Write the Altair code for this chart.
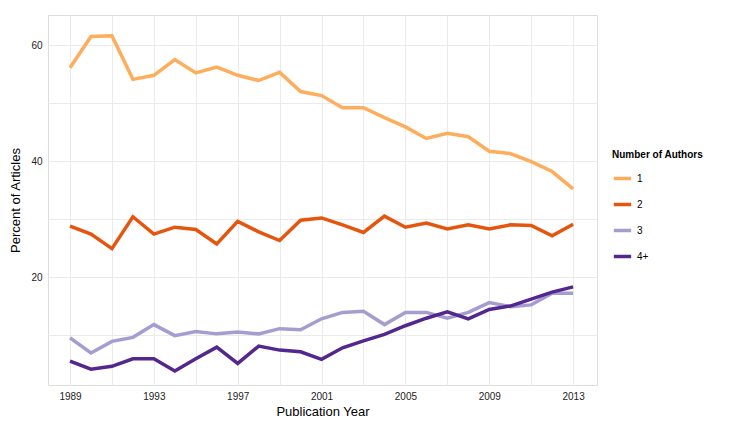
import altair as alt
import pandas as pd

years = list(range(1989, 2014))
s1 = [56.1, 61.5, 61.6, 54.1, 54.8, 57.5, 55.2, 56.2, 54.8, 53.9, 55.3, 52.0, 51.3, 49.2, 49.2,
      47.5, 45.9, 43.9, 44.8, 44.2, 41.7, 41.3, 39.9, 38.2, 35.2]
s2 = [28.8, 27.4, 24.9, 30.4, 27.4, 28.6, 28.2, 25.7, 29.6, 27.8, 26.3, 29.8, 30.2, 29.0, 27.7,
      30.5, 28.6, 29.3, 28.3, 29.0, 28.3, 29.0, 28.9, 27.1, 29.1]
s3 = [9.5, 6.9, 8.9, 9.6, 11.8, 9.9, 10.6, 10.2, 10.5, 10.2, 11.1, 10.9, 12.8, 13.9, 14.1,
      11.8, 13.9, 13.9, 12.9, 13.9, 15.6, 14.9, 15.2, 17.2, 17.2]
s4 = [5.5, 4.1, 4.6, 5.9, 5.9, 3.8, 5.9, 7.9, 5.1, 8.1, 7.4, 7.1, 5.8, 7.8, 9.0,
      10.1, 11.6, 12.9, 14.0, 12.8, 14.4, 15.0, 16.2, 17.4, 18.3]
groups = ["1", "2", "3", "4+"]
colors = ["#fdad5c", "#e6550d", "#a59dcf", "#54278f"]

rows = []
for g, s in zip(groups, [s1, s2, s3, s4]):
    for y, v in zip(years, s):
        rows.append({"year": y, "pct": v, "authors": g})
df = pd.DataFrame(rows)

chart = alt.Chart(df).mark_line(strokeWidth=3.5, clip=True).encode(
    x=alt.X("year:Q", title="Publication Year",
            scale=alt.Scale(domain=[1987.95, 2014.14], nice=False, zero=False),
            axis=alt.Axis(values=list(range(1989, 2014, 2)),
                          labelExpr="(datum.value - 1989) % 4 == 0 ? datum.value : ''",
                          format="d", ticks=False, labelPadding=6, domain=False,
                          gridColor="#ebebeb", labelColor="#222", labelFontSize=10,
                          titleFontSize=13, titleFontWeight="normal", titlePadding=4)),
    y=alt.Y("pct:Q", title="Percent of Articles",
            scale=alt.Scale(domain=[1.38, 65.2], nice=False, zero=False),
            axis=alt.Axis(values=[10, 20, 30, 40, 50, 60],
                          labelExpr="datum.value % 20 == 0 ? datum.value : ''",
                          ticks=False, labelPadding=6, domain=False,
                          gridColor="#ebebeb", labelColor="#222", labelFontSize=10,
                          titleFontSize=13, titleFontWeight="normal", titlePadding=8)),
    color=alt.Color("authors:N", title="Number of Authors",
                    scale=alt.Scale(domain=groups, range=colors),
                    legend=alt.Legend(orient="none", legendX=564, legendY=135,
                                      symbolType="stroke", symbolStrokeWidth=3.5,
                                      symbolSize=300, titleFontSize=10, labelFontSize=10,
                                      titleFontWeight="bold", rowPadding=8,
                                      titlePadding=8)),
).properties(
    width=549, height=370,
    autosize=alt.AutoSizeParams(type="none"),
    padding={"left": 40, "top": 7, "right": 130, "bottom": 36},
).configure_view(stroke="#9a9a9a", strokeWidth=1).configure(
    font="Liberation Sans"
)

chart.save("out.html", embed_options={"renderer": "svg", "actions": False})
